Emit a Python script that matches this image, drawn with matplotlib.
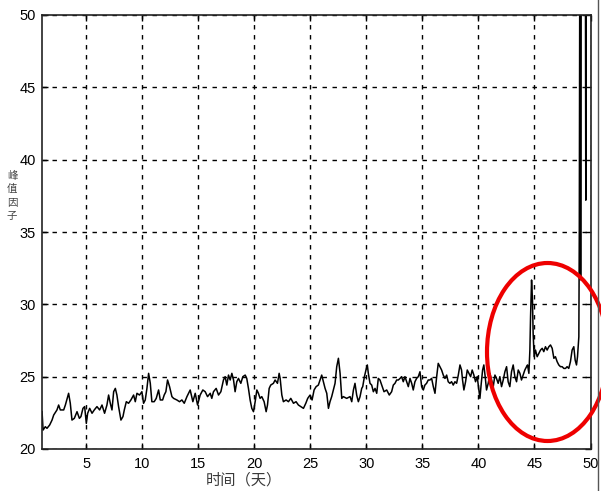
import matplotlib
matplotlib.use("Agg")
import matplotlib.pyplot as plt
from matplotlib.patches import Ellipse
from matplotlib.lines import Line2D

plt.rcParams['font.family'] = ['Liberation Sans', 'Noto Sans CJK SC', 'DejaVu Sans']
plt.rcParams['lines.scale_dashes'] = False

# crest factor (峰值因子) readings over time in days
days = [
    1.05, 1.14, 1.34, 1.49, 1.73, 1.94, 2.09, 2.38, 2.53, 2.68, 2.98, 3.13, 3.42, 3.57, 3.72,
    3.93, 4.17, 4.38, 4.52, 4.70, 4.85, 5.00, 5.12, 5.30, 5.51, 5.71, 5.95, 6.19, 6.40, 6.63,
    6.84, 6.99, 7.14, 7.29, 7.44, 7.59, 7.73, 7.88, 8.09, 8.27, 8.39, 8.57, 8.77, 8.98, 9.22,
    9.37, 9.52, 9.75, 9.96, 10.11, 10.26, 10.41, 10.56, 10.71, 10.85, 11.06, 11.24, 11.45, 11.60, 11.81,
    11.95, 12.10, 12.25, 12.43, 12.64, 12.79, 13.08, 13.32, 13.53, 13.74, 13.98,
    14.27, 14.51, 14.72, 14.93, 15.16, 15.40, 15.61, 15.82, 16.06, 16.20, 16.35, 16.59, 16.80, 17.01,
    17.24, 17.39, 17.54, 17.69, 17.84, 17.99, 18.14, 18.28, 18.43, 18.58, 18.79, 18.97, 19.18, 19.32,
    19.47, 19.62, 19.77, 19.92, 20.07, 20.22, 20.36, 20.51, 20.66, 20.87, 21.05, 21.17, 21.32, 21.46,
    21.70, 21.85, 22.06, 22.21, 22.30, 22.45, 22.59, 22.83, 23.04, 23.25, 23.49, 23.72, 23.93, 24.14,
    24.38, 24.59, 24.76, 24.97, 25.15, 25.33, 25.51, 25.71, 25.86, 26.01, 26.16, 26.31, 26.46, 26.61,
    26.75, 26.90, 27.05, 27.20, 27.35, 27.50, 27.65, 27.80, 27.94, 28.24, 28.54, 28.69, 28.84, 28.98,
    29.13, 29.28, 29.43, 29.58, 29.67, 29.82, 29.96, 30.08, 30.17, 30.32, 30.47, 30.62, 30.77, 30.92,
    31.06, 31.21, 31.42, 31.57, 31.81, 32.04, 32.25, 32.40, 32.55, 32.70, 32.85, 33.00,
    33.14, 33.29, 33.44, 33.59, 33.74, 33.89, 34.04, 34.18, 34.33, 34.48, 34.63, 34.78, 34.93, 35.08,
    35.22, 35.37, 35.52, 35.67, 35.82, 35.97, 36.12, 36.27, 36.41, 36.56, 36.71, 36.86, 37.01, 37.16,
    37.30, 37.45, 37.60, 37.75, 37.90, 38.05, 38.20, 38.35, 38.49, 38.58, 38.70, 38.85, 39.00, 39.15,
    39.30, 39.44, 39.59, 39.74, 39.89, 40.04, 40.13, 40.25, 40.37, 40.48, 40.60, 40.72, 40.87, 41.02,
    41.17, 41.32, 41.47, 41.61, 41.76, 41.91, 42.06, 42.21, 42.36, 42.51, 42.65, 42.80, 42.95, 43.10,
    43.25, 43.40, 43.55, 43.70, 43.84, 43.99, 44.14, 44.29, 44.38, 44.50, 44.59, 44.65, 44.74, 44.82,
    44.88, 44.97, 45.09, 45.24, 45.39, 45.54, 45.69, 45.83, 45.98, 46.13, 46.28, 46.43, 46.58, 46.73,
    46.87, 47.02, 47.17, 47.32, 47.47, 47.62, 47.77, 47.91, 48.06, 48.21, 48.36, 48.51, 48.63, 48.75,
    48.84, 48.96, 49.00, 49.04, 49.09, 49.12, 49.16, 49.55, 49.58, 49.62, 50.00,
]
crest = [
    22.58, 21.31, 21.54, 21.43, 21.66, 22.00, 22.35, 22.70, 23.04, 22.70, 22.70, 23.04, 23.85, 23.16, 22.00,
    22.12, 22.58, 22.12, 22.24, 22.81, 22.93, 21.77, 22.47, 22.81, 22.47, 22.70, 22.93, 22.70, 23.04, 22.47,
    23.04, 23.73, 23.16, 22.70, 23.96, 24.19, 23.73, 22.93, 22.00, 22.24, 22.70, 23.27, 23.16, 23.39, 23.73,
    23.27, 23.85, 23.73, 23.96, 23.16, 23.39, 24.19, 25.23, 24.54, 23.27, 23.27, 23.50, 24.08, 23.39, 23.39,
    23.73, 23.96, 24.77, 24.31, 23.62, 23.50, 23.39, 23.27, 23.39, 23.16, 23.62,
    24.08, 23.27, 23.85, 23.04, 23.73, 24.08, 23.96, 23.62, 23.85, 23.50, 23.96, 24.19, 23.73, 23.96,
    24.77, 25.00, 24.42, 25.11, 24.77, 25.23, 24.77, 23.96, 24.65, 24.88, 24.54, 25.00, 25.11, 24.88,
    24.19, 23.39, 22.81, 22.58, 23.27, 24.08, 23.85, 23.50, 23.62, 23.27, 22.58, 23.04, 24.19, 24.42,
    24.54, 24.77, 24.54, 25.23, 24.88, 23.73, 23.27, 23.39, 23.27, 23.50, 23.16, 23.27, 23.04, 22.93,
    22.81, 23.16, 23.50, 23.73, 23.39, 24.08, 24.31, 24.42, 24.77, 25.11, 24.65, 24.19, 23.85, 22.81,
    23.27, 23.62, 24.08, 24.54, 25.69, 26.27, 25.23, 23.50, 23.62, 23.50, 23.62, 23.27, 24.08, 24.54,
    23.73, 23.27, 23.62, 24.19, 24.31, 25.00, 25.46, 25.81, 25.23, 24.54, 24.42, 23.96, 24.19, 23.85,
    24.88, 24.77, 24.31, 23.96, 24.08, 23.73, 23.96, 24.42, 24.54, 24.77, 24.77, 24.88,
    25.00, 24.65, 25.00, 24.65, 24.31, 24.88, 24.54, 24.08, 24.65, 24.88, 25.00, 25.34, 24.31, 24.08,
    24.42, 24.54, 24.77, 24.77, 24.88, 24.31, 23.85, 25.00, 25.92, 25.69, 25.46, 25.11, 24.88, 25.11,
    24.65, 24.54, 24.65, 24.42, 24.65, 24.54, 25.11, 25.81, 25.46, 24.77, 24.08, 24.65, 25.46, 25.23,
    25.00, 25.46, 25.11, 24.65, 25.00, 24.08, 23.50, 24.54, 25.46, 25.81, 25.00, 24.08, 24.54, 25.23,
    24.77, 24.31, 25.11, 24.88, 24.54, 25.00, 24.31, 24.77, 25.34, 25.69, 24.65, 24.31, 25.34, 25.81,
    25.00, 24.65, 25.46, 25.23, 24.77, 25.11, 25.46, 25.69, 25.81, 25.23, 26.84, 29.15, 31.68, 30.30,
    28.00, 26.38, 26.84, 26.38, 26.61, 26.84, 26.96, 26.73, 27.07, 26.84, 27.07, 27.19, 26.96, 26.27,
    26.38, 26.04, 25.81, 25.69, 25.69, 25.57, 25.57, 25.69, 25.57, 26.04, 26.84, 27.07, 26.15, 25.81,
    26.38, 27.76, 35.00, 52.00, 52.00, 31.70, 52.00, 52.00, 37.20, 52.00, 52.00,
]

x_ticks = [5, 10, 15, 20, 25, 30, 35, 40, 45, 50]
y_ticks = [20, 25, 30, 35, 40, 45, 50]

W, H = 601, 491
fig = plt.figure(figsize=(W / 100, H / 100), dpi=100)
ax = fig.add_axes([41.5 / W, 1 - 449 / H, (590.5 - 41.5) / W, (449 - 15) / H])

ax.plot(days, crest, color='black', linewidth=1.1)

ax.set_xlim(1, 50)
ax.set_ylim(20, 50)
ax.set_xticks(x_ticks)
ax.set_yticks(y_ticks)
ax.grid(True, color='black', linewidth=1.0, linestyle=(0, (3.2, 4.0)))
ax.tick_params(direction='in', length=4, width=1.0, top=True, right=True,
               labelsize=10.5, colors='black')
ax.tick_params(axis='x', pad=6)
ax.tick_params(axis='y', pad=4)
for s in ax.spines.values():
    s.set_linewidth(1.2)
    s.set_color('#222222')

# axis captions
fig.text(244 / W, 1 - 480 / H, '时间（天）', ha='center', va='center',
         fontsize=11, color='#3a3a3a', family=['Noto Sans CJK SC', 'DejaVu Sans'])
fig.text(12 / W, 1 - 196 / H, '峰\n值\n因\n子', ha='center', va='center',
         fontsize=7.5, color='#444444', linespacing=1.45,
         family=['Noto Sans CJK SC', 'DejaVu Sans'])

# highlight of the fault region
ell = Ellipse((547.5 / W, 1 - 352 / H), 121 / W, 178 / H, transform=fig.transFigure,
              fill=False, edgecolor='#ee0000', linewidth=3.0)
fig.add_artist(ell)

# page edge line
fig.add_artist(Line2D([597.5 / W, 597.5 / W], [0, 1], transform=fig.transFigure,
                      color='#555555', linewidth=1.0))

fig.savefig('out.png', dpi=100)
